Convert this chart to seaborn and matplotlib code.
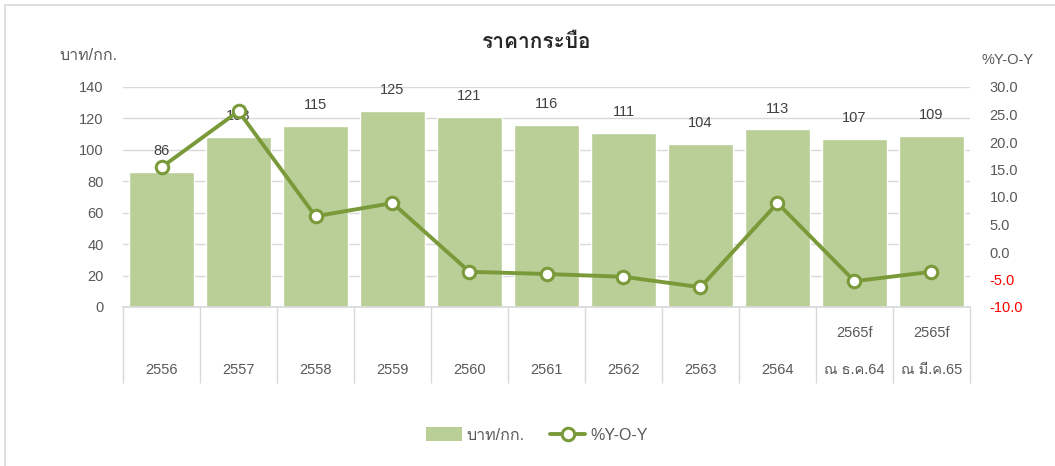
import matplotlib
matplotlib.use("Agg")
import matplotlib.pyplot as plt
from matplotlib import font_manager, ft2font
from matplotlib.patches import Rectangle, Patch
from matplotlib.lines import Line2D
import seaborn as sns
import pandas as pd
import numpy as np

categories = ["2556", "2557", "2558", "2559", "2560", "2561", "2562", "2563", "2564",
              "2565f\nณ ธ.ค.64", "2565f\nณ มี.ค.65"]
price = [86, 108, 115, 125, 121, 116, 111, 104, 113, 107, 109]
yoy = [15.4, 25.6, 6.5, 8.9, -3.6, -4.0, -4.5, -6.4, 8.9, -5.3, -3.6]
left_ticks = [0, 20, 40, 60, 80, 100, 120, 140]
right_ticks = [-10.0, -5.0, 0.0, 5.0, 10.0, 15.0, 20.0, 25.0, 30.0]

# find a font with Thai glyphs
thai_fonts = []
seen = set()
for f in font_manager.fontManager.ttflist:
    if f.name in seen:
        continue
    try:
        cm = ft2font.FT2Font(f.fname).get_charmap()
        if 0x0E1A in cm and 0x0E32 in cm:
            thai_fonts.append(f.name)
            seen.add(f.name)
    except Exception:
        pass

sns.set_theme(style="white")
fams = ["Liberation Sans"] + [n for n in thai_fonts if n != "Liberation Sans"] + ["DejaVu Sans"]
plt.rcParams["font.family"] = fams

bar_color = "#B9CF97"
line_color = "#7A9A3A"
tick_color = "#595959"
grid_color = "#D9D9D9"

fig = plt.figure(figsize=(10.55, 4.66), dpi=100)
ax = fig.add_axes([123/1055, 1-307/466, (970-123)/1055, (307-87)/466])

df = pd.DataFrame({"cat": categories, "price": price, "yoy": yoy})
sns.barplot(data=df, x="cat", y="price", color=bar_color, width=0.84,
            saturation=1, ax=ax, zorder=2)
ax.set_ylim(0, 140)
ax.set_yticks(left_ticks)
ax.set_xlim(-0.5, len(categories) - 0.5)
ax.grid(axis="y", color=grid_color, lw=1, zorder=0)
ax.set_axisbelow(True)
for s in ["top", "left", "right"]:
    ax.spines[s].set_visible(False)
ax.spines["bottom"].set_color(grid_color)
ax.set_xlabel("")
ax.set_ylabel("")

# bar labels
for cont in ax.containers:
    ax.bar_label(cont, labels=[str(v) for v in price], padding=10,
                 fontsize=10.5, color="#404040")

# x tick labels (two-line for forecasts)
xlabels = []
for c in categories:
    parts = c.split("\n")
    if len(parts) == 2:
        xlabels.append(parts[0] + "\n\n" + parts[1])
    else:
        xlabels.append("\n\n" + parts[0])
ax.set_xticks(range(len(categories)))
ax.set_xticklabels(xlabels, fontsize=10.5, color=tick_color, linespacing=1.38)
ax.tick_params(axis="x", which="major", bottom=False, length=0, pad=14)
ax.set_xticks(np.arange(-0.5, len(categories), 1), minor=True)
ax.tick_params(axis="x", which="minor", bottom=True, length=55, color=grid_color, width=1)
ax.tick_params(axis="y", length=0, pad=14, labelsize=10.5, labelcolor=tick_color)

# line on secondary axis
ax2 = ax.twinx()
sns.lineplot(x=np.arange(len(categories)), y=yoy, ax=ax2, color=line_color, lw=2.8,
             marker="o", markersize=9, markerfacecolor="white",
             markeredgecolor=line_color, markeredgewidth=2.2, zorder=5)
ax2.set_ylim(-10, 30)
ax2.set_yticks(right_ticks)
ax2.set_yticklabels([f"{t:.1f}" for t in right_ticks])
ax2.tick_params(axis="y", length=0, pad=14, labelsize=10.5, labelcolor=tick_color)
for lab, t in zip(ax2.get_yticklabels(), right_ticks):
    if t < 0:
        lab.set_color("#FF0000")
for s in ax2.spines.values():
    s.set_visible(False)
ax2.grid(False)
ax2.set_xlim(-0.5, len(categories) - 0.5)

# titles and axis labels
fig.text(537/1055, 1-42/466, "ราคากระบือ", ha="center", va="center",
         fontsize=15, fontweight="bold", color="#262626")
fig.text(88/1055, 1-55/466, "บาท/กก.", ha="center", va="center",
         fontsize=11.5, color=tick_color)
fig.text(1008/1055, 1-60/466, "%Y-O-Y", ha="center", va="center",
         fontsize=10.5, color=tick_color)

# legend
handles = [Patch(facecolor=bar_color, edgecolor="none"),
           Line2D([0], [0], color=line_color, lw=2.8, marker="o", markersize=9,
                  markerfacecolor="white", markeredgecolor=line_color,
                  markeredgewidth=2.2)]
fig.legend(handles, ["บาท/กก.", "%Y-O-Y"], loc="center", ncol=2,
           bbox_to_anchor=(537/1055, 1-435/466), frameon=False, fontsize=11.5,
           labelcolor=tick_color, handlelength=2.2, handleheight=0.9,
           columnspacing=1.6, handletextpad=0.3)

# outer border
fig.patches.append(Rectangle((5/1055, -0.1), 1.2, 1 - 5/466 + 0.1,
                             transform=fig.transFigure, fill=False,
                             edgecolor="#D9D9D9", lw=1.2))

fig.savefig("out.png", dpi=100)
